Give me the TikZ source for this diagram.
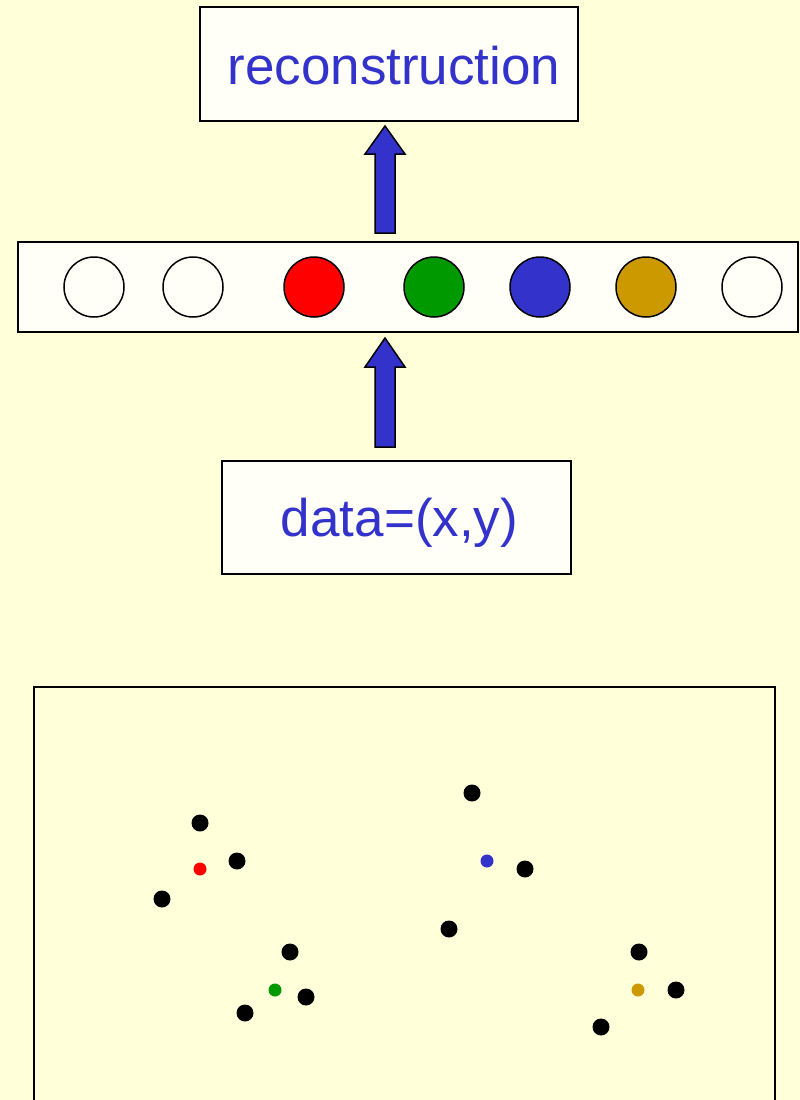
\documentclass[tikz,border=0pt]{standalone}
\usepackage{fontspec}
\setmainfont{Liberation Sans}
\usetikzlibrary{calc}
\definecolor{bg}{RGB}{255,255,218}
\definecolor{boxfill}{RGB}{255,255,247}
\definecolor{txtblue}{RGB}{51,51,204}
\definecolor{cred}{RGB}{255,0,0}
\definecolor{cgreen}{RGB}{0,153,0}
\definecolor{cblue}{RGB}{51,51,204}
\definecolor{cgold}{RGB}{204,153,0}
\begin{document}
\begin{tikzpicture}[x=1pt,y=-1pt,
  box/.style={draw=black,line width=2pt,fill=boxfill,inner sep=0pt,outer sep=0pt},
  lbl/.style={inner sep=0pt,anchor=base,text=txtblue,font=\fontsize{53}{60}\selectfont},
  unit/.style={circle,draw=black,line width=1.5pt,minimum size=60pt,inner sep=0pt},
  barrow/.style={draw=black,line width=1.5pt,fill=cblue,line join=miter},
  pt/.style={circle,fill=black,minimum size=17pt,inner sep=0pt},
  cpt/.style={circle,minimum size=13pt,inner sep=0pt}]
\fill[bg] (0,0) rectangle (800,1100);
\useasboundingbox (0,0) rectangle (800,1100);
\clip (0,0) rectangle (800,1100);

% boxes
\node[box,minimum width=378pt,minimum height=114pt] (recon) at (389,64) {};
\node[lbl] (recontxt) at (394,84) {reconstruction};
\node[box,minimum width=780pt,minimum height=90pt] (layer) at (408,287) {};
\node[box,minimum width=349pt,minimum height=113pt] (data) at (396.5,517.5) {};
\node[lbl] (datatxt) at (399.5,536) {data=(x,y)};

% units
\node[unit,fill=boxfill] (u1) at (94,287) {};
\node[unit,fill=boxfill] (u2) at (193,287) {};
\node[unit,fill=cred] (u3) at (314,287) {};
\node[unit,fill=cgreen] (u4) at (434,287) {};
\node[unit,fill=cblue] (u5) at (540,287) {};
\node[unit,fill=cgold] (u6) at (646,287) {};
\node[unit,fill=boxfill] (u7) at (752,287) {};

% block arrows
\coordinate (ax) at (385,0);
\coordinate (uaB) at ($(layer.north -| ax)+(0,-9)$);
\coordinate (uaT) at ($(recon.south -| ax)+(0,5)$);
\draw[barrow] ($(uaB)+(-10,0)$) -- ($(uaT)+(-10,28)$) -- ($(uaT)+(-20,28)$) -- (uaT)
  -- ($(uaT)+(20,28)$) -- ($(uaT)+(10,28)$) -- ($(uaB)+(10,0)$) -- cycle;
\coordinate (laB) at ($(data.north -| ax)+(0,-14)$);
\coordinate (laT) at ($(layer.south -| ax)+(0,6)$);
\draw[barrow] ($(laB)+(-10,0)$) -- ($(laT)+(-10,29)$) -- ($(laT)+(-20,29)$) -- (laT)
  -- ($(laT)+(20,29)$) -- ($(laT)+(10,29)$) -- ($(laB)+(10,0)$) -- cycle;

% data plot frame (open at the bottom)
\draw[line width=2.5pt] (34,1110) -- (34,687) -- (775,687) -- (775,1110);

% data points
\node[pt] (p1) at (200,823) {};
\node[pt] (p2) at (237,861) {};
\node[pt] (p3) at (162,899) {};
\node[pt] (p4) at (290,952) {};
\node[pt] (p5) at (306,997) {};
\node[pt] (p6) at (245,1013) {};
\node[pt] (p7) at (472,793) {};
\node[pt] (p8) at (525,869) {};
\node[pt] (p9) at (449,929) {};
\node[pt] (p10) at (639,952) {};
\node[pt] (p11) at (676,990) {};
\node[pt] (p12) at (601,1027) {};
% cluster centres
\node[cpt,fill=cred] (c1) at (200,869) {};
\node[cpt,fill=cgreen] (c2) at (275,990) {};
\node[cpt,fill=cblue] (c3) at (487,861) {};
\node[cpt,fill=cgold] (c4) at (638,990) {};
\end{tikzpicture}
\end{document}
